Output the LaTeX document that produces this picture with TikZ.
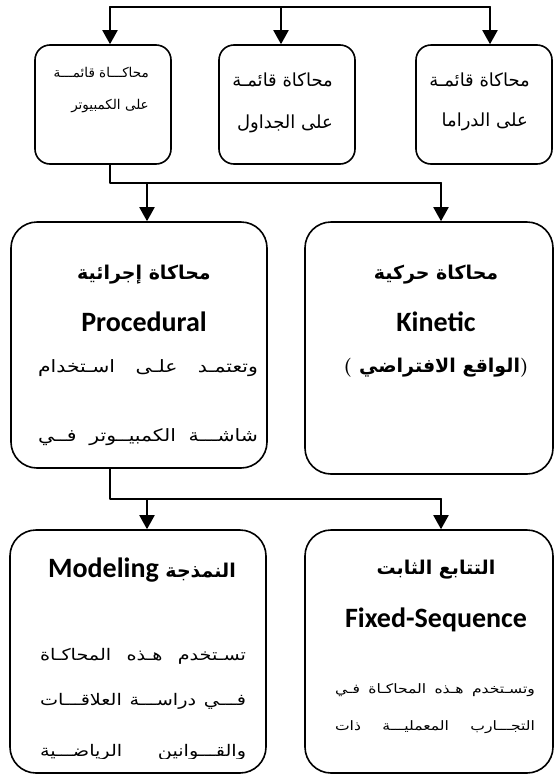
\documentclass[tikz,border=0pt]{standalone}
\usepackage{fontspec}
\usetikzlibrary{arrows.meta}
\TeXXeTstate=1
\newfontfamily\arabicfont[Script=Arabic]{DejaVu Sans}
\newfontfamily\arabicwide[Script=Arabic,FakeStretch=1.2]{DejaVu Sans}
\newfontfamily\titlefont{Carlito}
\newcommand{\ar}[1]{{\arabicfont\beginR#1\endR}}
\newcommand{\arb}[1]{{\arabicfont\bfseries\beginR#1\endR}}
% justified Arabic line of a given width
\newcommand{\jline}[2]{\hbox to #1{\arabicwide\spaceskip=0.25em plus 1fil minus 0.2em\beginR#2\endR}}
\tikzset{
  panel/.style={draw, line width=1.6pt, rounded corners=15pt, inner sep=0pt},
  bigpanel/.style={panel, rounded corners=26pt},
  link/.style={line width=2pt},
  feed/.style={link, -{Triangle[width=15pt,length=14pt]}},
  small/.style={font=\fontsize{13.5}{15}\selectfont, inner sep=0pt, anchor=east},
  mid/.style={font=\fontsize{18}{20}\selectfont, inner sep=0pt, anchor=east},
  body/.style={font=\fontsize{17}{19}\selectfont, inner sep=0pt},
  body2/.style={font=\fontsize{16}{18}\selectfont, inner sep=0pt},
  note/.style={font=\fontsize{13}{15}\selectfont, inner sep=0pt},
  head/.style={font=\fontsize{19}{21}\selectfont, inner sep=0pt},
  latin/.style={font=\fontsize{28}{30}\selectfont\titlefont\bfseries, inner sep=0pt},
}
\begin{document}
\begin{tikzpicture}[x=1pt, y=-1pt, line cap=round, line join=round]
  \useasboundingbox (0,0) rectangle (554,777);
  % top row
  \node[panel, minimum width=136pt, minimum height=119pt] (computer) at (103,104.5) {};
  \node[panel, minimum width=136pt, minimum height=119pt] (tables) at (287,104.5) {};
  \node[panel, minimum width=136pt, minimum height=119pt] (drama) at (484,104.5) {};
  \node[small] (computer-a) at (149,73) {\ar{محاكـــاة قائمـــة}};
  \node[small] (computer-b) at (149,106) {\ar{على الكمبيوتر}};
  \node[mid] (tables-a) at (333,80) {\ar{محاكاة قائمـة}};
  \node[mid] (tables-b) at (333,124) {\ar{على الجداول}};
  \node[mid] (drama-a) at (530,80) {\ar{محاكاة قائمـة}};
  \node[mid] (drama-b) at (528,122) {\ar{على الدراما}};
  % middle row
  \node[bigpanel, minimum width=256pt, minimum height=246pt] (procedural) at (139,345) {};
  \node[bigpanel, minimum width=248pt, minimum height=252pt] (kinetic) at (429,348) {};
  \node[head] (procedural-a) at (144,275) {\arb{محاكاة إجرائية}};
  \node[latin] (procedural-b) at (144,322) {Procedural};
  \node[body] (procedural-c) at (148,368) {\jline{220pt}{وتعتمـد علـى اسـتخدام}};
  \begin{scope}
    \clip (11,222) rectangle (267,446);
    \node[body] (procedural-d) at (148,437) {\jline{220pt}{شاشـــة الكمبيــوتر فــي}};
  \end{scope}
  \node[head] (kinetic-a) at (436,275) {\arb{محاكاة حركية}};
  \node[latin] (kinetic-b) at (436,322) {Kinetic};
  \node[head] (kinetic-c) at (436,368) {\bfseries(\ \arb{الواقع الافتراضي})};
  % bottom row
  \node[bigpanel, minimum width=256pt, minimum height=243pt] (modeling) at (138,651.5) {};
  \node[bigpanel, minimum width=248pt, minimum height=243pt] (fixed) at (429,651.5) {};
  \node[head] (modeling-a) at (142,570) {{\arabicfont\bfseries\beginR النمذجة {\titlefont\fontsize{28}{30}\selectfont\beginL Modeling\endL}\endR}};
  \node[body2] (modeling-b) at (143,656) {\jline{206pt}{تسـتخدم هـذه المحاكـاة}};
  \node[body2] (modeling-c) at (143,701) {\jline{206pt}{فـــي دراســـة العلاقـــات}};
  \begin{scope}
    \clip (10,530) rectangle (266,758);
    \node[body2] (modeling-d) at (143,752) {\jline{206pt}{والقـــوانين الرياضـــية}};
  \end{scope}
  \node[head] (fixed-a) at (436,570) {\arb{التتابع الثابت}};
  \node[latin] (fixed-b) at (436,620) {Fixed-Sequence};
  \node[note] (fixed-c) at (435,690) {\jline{200pt}{وتسـتخدم هـذه المحاكـاة فـي}};
  \node[note] (fixed-d) at (435,727) {\jline{200pt}{التجـــارب المعمليـــة ذات}};
  % connectors
  \coordinate (t1) at (110,7);
  \coordinate (t2) at (281,7);
  \coordinate (t3) at (490,7);
  \draw[link] (t1) -- (t3);
  \foreach \c/\n in {t1/computer,t2/tables,t3/drama}
    \draw[feed] (\c) -- (\c |- \n.north);
  \coordinate (j1) at (110,183);
  \coordinate (p1) at (147,183);
  \coordinate (k1) at (441,183);
  \draw[link] (computer.south -| j1) -- (j1) -- (k1);
  \draw[feed] (p1) -- (p1 |- procedural.north);
  \draw[feed] (k1) -- (k1 |- kinetic.north);
  \coordinate (j2) at (110,499);
  \coordinate (m2) at (147,499);
  \coordinate (f2) at (441,499);
  \draw[link] (procedural.south -| j2) -- (j2) -- (f2);
  \draw[feed] (m2) -- (m2 |- modeling.north);
  \draw[feed] (f2) -- (f2 |- fixed.north);
\end{tikzpicture}
\end{document}
